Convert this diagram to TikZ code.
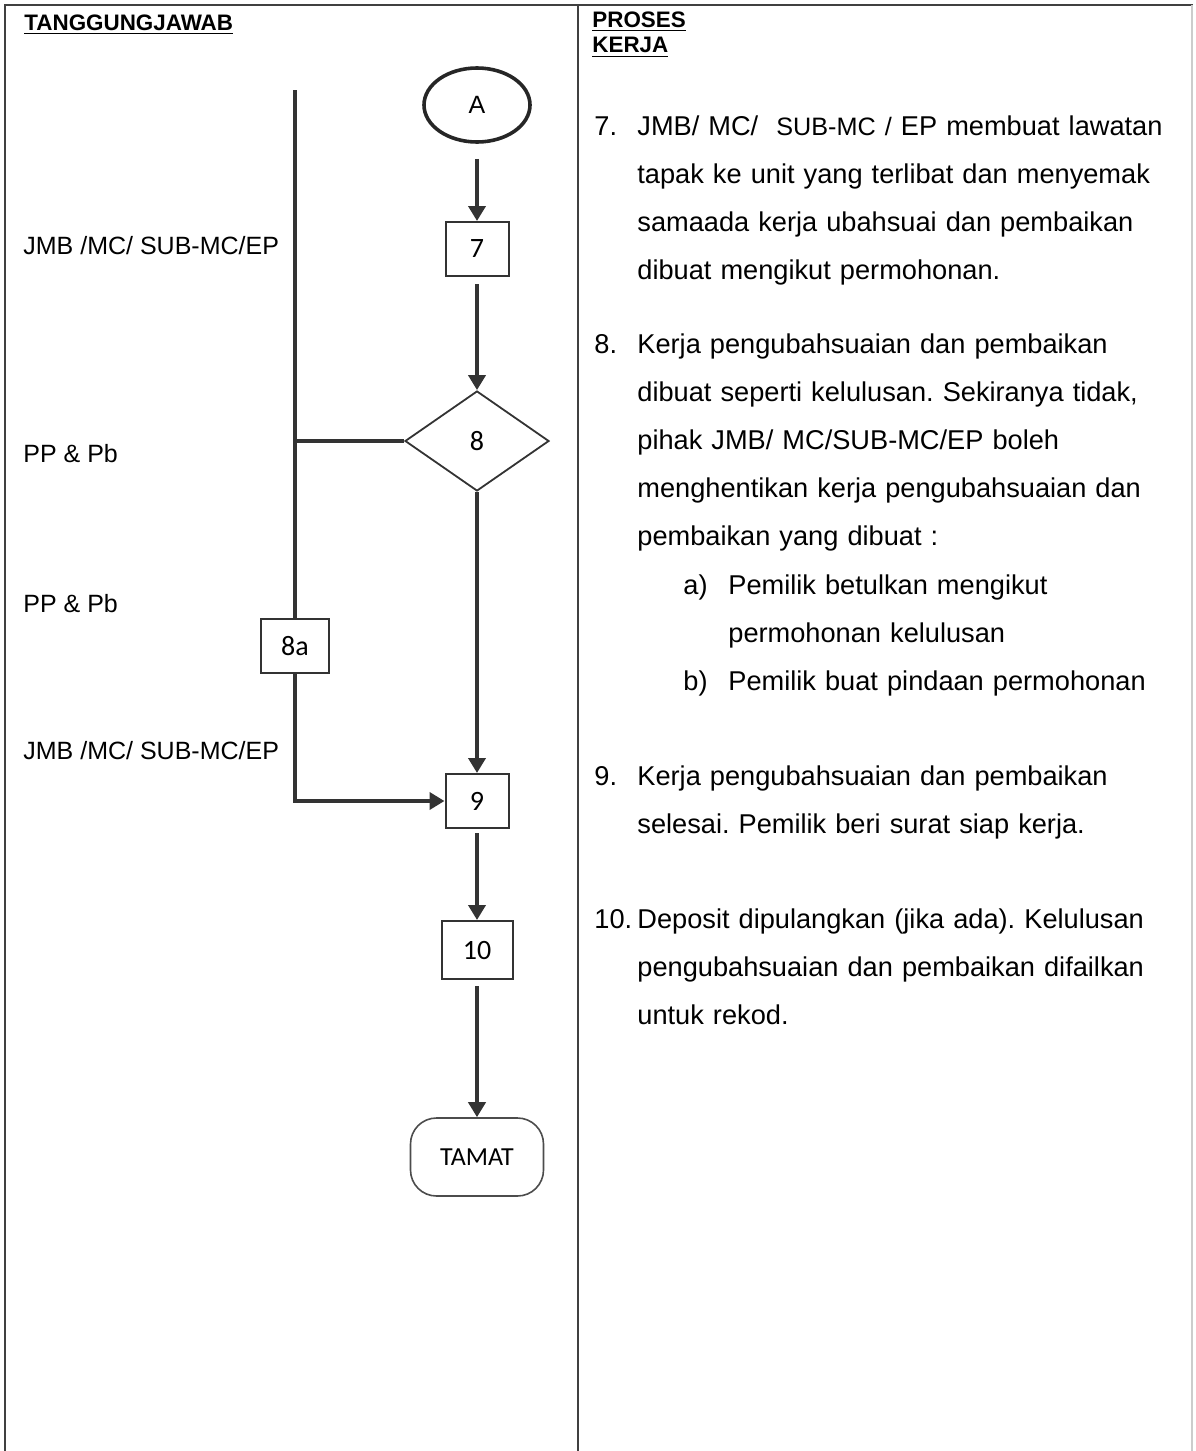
\documentclass[tikz,border=0pt]{standalone}
\usepackage{fontspec}
\setmainfont{Liberation Sans}
\newfontfamily\boxfont{Carlito}
\usetikzlibrary{arrows.meta,positioning,shapes.geometric}
\frenchspacing

\begin{document}
\begin{tikzpicture}[
        x=0.5pt, y=-0.5pt,
        frame/.style={line width=0.9pt, draw=black!75},
        header/.style={anchor=base west, inner sep=0pt, font=\fontsize{11.2}{13}\selectfont\bfseries},
        who/.style={anchor=base west, inner sep=0pt, font=\fontsize{12.5}{15}\selectfont},
        item/.style={
            anchor=base west,
            inner sep=0pt,
            align=left,
            text width=290pt,
            font=\fontsize{13.6}{24}\selectfont
        },
        itemno/.style={anchor=base west, inner sep=0pt, font=\fontsize{13.6}{24}\selectfont},
        stepbox/.style={
            draw=black!80,
            line width=1pt,
            fill=white,
            inner sep=0pt,
            minimum width=31.5pt,
            minimum height=27pt,
            font=\boxfont\fontsize{14}{16}\selectfont
        },
        decision/.style={
            diamond,
            draw=black!80,
            line width=0.9pt,
            inner sep=0pt,
            aspect=1.44,
            minimum width=72pt,
            minimum height=50pt,
            font=\boxfont\fontsize{14}{16}\selectfont
        },
        connector/.style={
            ellipse,
            draw=black!85,
            line width=1.8pt,
            inner sep=0pt,
            minimum width=53pt,
            minimum height=37pt,
            font=\fontsize{12.5}{14}\selectfont
        },
        terminal/.style={
            draw=black!70,
            line width=0.8pt,
            rounded corners=13pt,
            inner sep=0pt,
            minimum width=66.5pt,
            minimum height=39pt,
            font=\boxfont\fontsize{13}{15}\selectfont
        },
        lane/.style={line width=2pt, draw=black!80},
        arrow/.style={-{Triangle[width=8.5pt,length=7.5pt]}, line width=2pt, draw=black!80}
    ]
        \useasboundingbox (0,0) rectangle (1195,1451);
        \draw[frame] (5,1451) -- (5,5) -- (1193,5);
        \draw[frame] (578,5) -- (578,1451);
        \draw[line width=0.6pt, draw=black!20] (1192,5) -- (1192,1451);

        \node[header] (hdrWho) at (24,30) {\underline{TANGGUNGJAWAB}};
        \node[header] (hdrProc) at (592,27) {\underline{PROSES}};
        \node[header] (hdrWork) at (592,53) {\underline{KERJA}};

        \node[connector] (nodeA) at (477,105) {A};
        \node[stepbox] (step7) at (477,249) {7};
        \node[decision] (step8) at (477,441) {8};
        \node[stepbox, minimum width=34pt] (step8a) at (295,646) {8a};
        \node[stepbox] (step9) at (477,801) {9};
        \node[stepbox, minimum width=35.5pt, minimum height=29pt] (step10) at (477,950) {10};
        \node[terminal] (tamat) at (477,1157) {TAMAT};
        \coordinate (laneTop) at (295,90);

        \node[who] (who7) at (23,254) {JMB /MC/ SUB-MC/EP};
        \node[who] (who8) at (23,462) {PP \& Pb};
        \node[who] (who8a) at (23,612) {PP \& Pb};
        \node[who] (who9) at (23,759) {JMB /MC/ SUB-MC/EP};

        \node[itemno] (no7) at (594,135) {7.};
        \node[item] (txt7) at (637,135) {JMB/ MC/~ {\fontsize{12.6}{24}\selectfont SUB-MC /} EP membuat lawatan\\ tapak ke unit yang terlibat dan menyemak\\ samaada kerja ubahsuai dan pembaikan\\ dibuat mengikut permohonan.};
        \node[itemno] (no8) at (594,353) {8.};
        \node[item] (txt8) at (637,353) {Kerja pengubahsuaian dan pembaikan\\ dibuat seperti kelulusan. Sekiranya tidak,\\ pihak JMB/ MC/SUB-MC/EP boleh\\ menghentikan kerja pengubahsuaian dan\\ pembaikan yang dibuat :};
        \node[itemno] (no8a) at (683,594) {a)};
        \node[item, text width=240pt] (txt8a) at (728,594) {Pemilik betulkan mengikut\\ permohonan kelulusan};
        \node[itemno] (no8b) at (683,690) {b)};
        \node[item, text width=240pt] (txt8b) at (728,690) {Pemilik buat pindaan permohonan};
        \node[itemno] (no9) at (594,785) {9.};
        \node[item] (txt9) at (637,785) {Kerja pengubahsuaian dan pembaikan\\ selesai. Pemilik beri surat siap kerja.};
        \node[itemno] (no10) at (594,928) {10.};
        \node[item] (txt10) at (637,928) {Deposit dipulangkan (jika ada). Kelulusan\\ pengubahsuaian dan pembaikan difailkan\\ untuk rekod.};

        \draw[arrow, shorten <=7.5pt] (nodeA) -- (step7);
        \foreach \source/\target/\gap in {step7/step8/3.5pt,step8/step9/0pt,step9/step10/2pt,step10/tamat/3pt} {
            \draw[arrow, shorten <=\gap] (\source) -- (\target);
        }
        \draw[lane] (laneTop) -- (step8a);
        \draw[lane] (step8) -- (step8 -| laneTop);
        \draw[arrow] (step8a) |- (step9);
    \end{tikzpicture}
\end{document}
